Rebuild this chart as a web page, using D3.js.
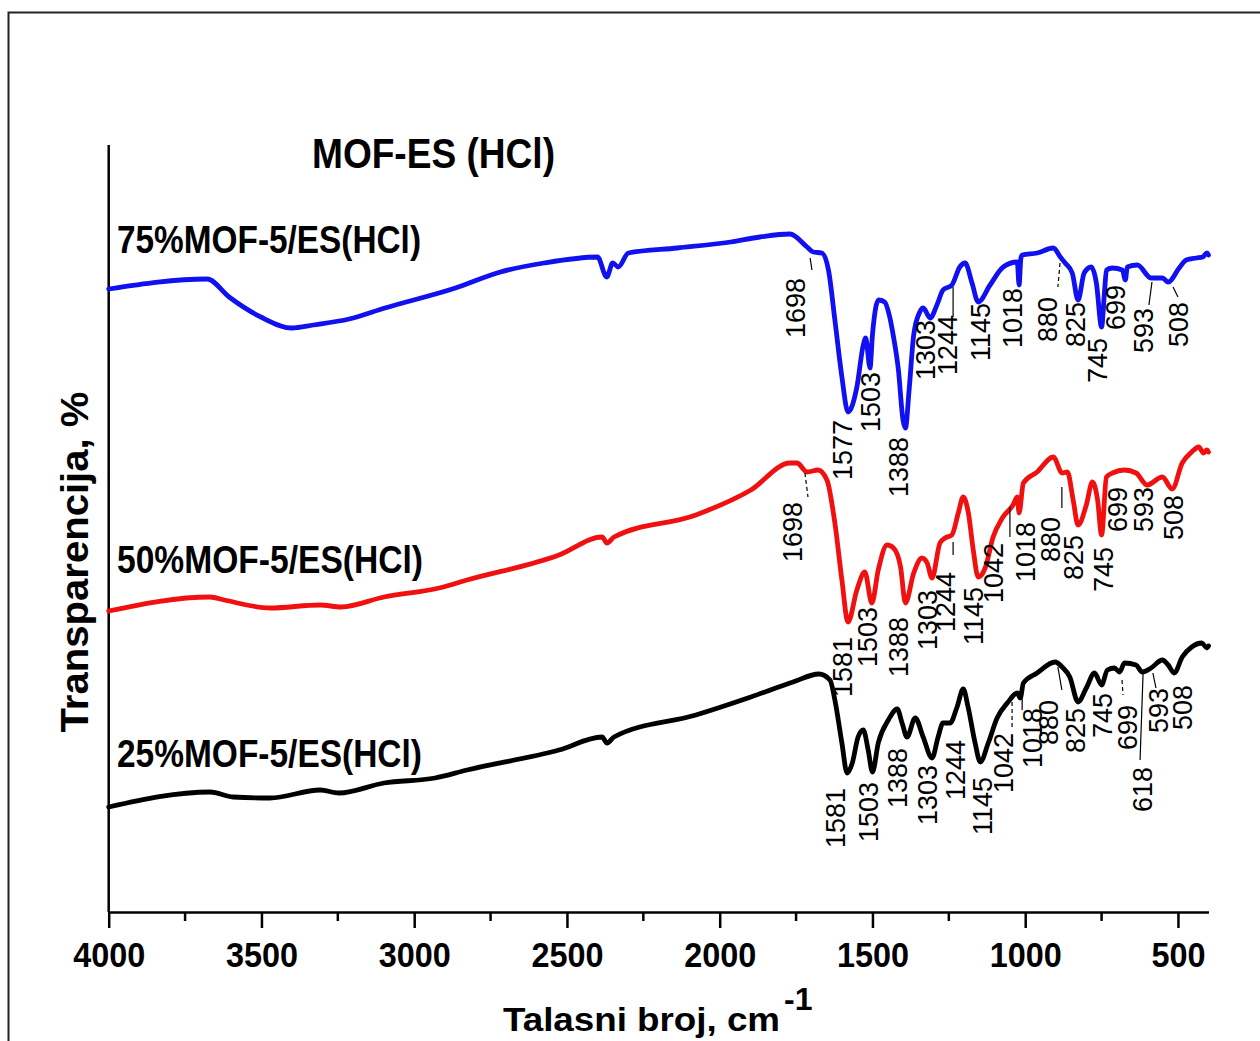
<!DOCTYPE html>
<html><head><meta charset="utf-8">
<script src="https://cdn.jsdelivr.net/npm/d3@7"></script>
<style>
html,body{margin:0;padding:0;background:#fff;}
svg{display:block;}
text{font-family:"Liberation Sans",Arial,sans-serif;}
</style></head>
<body>
<svg id="chart" width="1260" height="1041"></svg>
<script>
// ---------- DATA ----------
const chartTitle = "MOF-ES (HCl)";
const xTitle = "Talasni broj, cm";
const xTitleSup = "-1";
const yTitle = "Transparencija, %";
const seriesNames = ["75%MOF-5/ES(HCl)", "50%MOF-5/ES(HCl)", "25%MOF-5/ES(HCl)"];
const seriesColors = ["#1010f0", "#f01010", "#000000"];
const majorTicks = [4000, 3500, 3000, 2500, 2000, 1500, 1000, 500];
const minorTicks = [3750, 3250, 2750, 2250, 1750, 1250, 750];

// [wavenumber, transmittance (offset, a.u.)]
const series75 = [[4000,62.3],[3678,63.3],[3606,61.5],[3502,59.5],[3401,58.4],[3330,58.7],[3213,59.3],[3096,60.4],
[2865,62.4],[2718,64.0],[2575,64.9],[2400,65.5],[2370,63.5],[2350,64.9],[2332,64.5],[2299,65.9],[2139,66.4],[1964,67.0],
[1868,67.5],[1770,67.8],[1714,66.5],[1694,66.0],[1666,65.9],[1644,64.2],[1623,59.2],[1600,53.5],[1580,50.0],[1551,52.5],
[1530,56.7],[1522,57.4],[1508,54.4],[1500,57.7],[1480,61.2],[1460,61.0],[1445,59.7],[1431,57.5],[1415,54.2],[1400,49.2],
[1392,48.4],[1380,52.2],[1365,57.7],[1345,60.0],[1334,60.4],[1311,59.4],[1289,60.7],[1269,62.2],[1240,62.7],[1214,64.5],
[1197,64.9],[1174,62.9],[1154,61.0],[1115,62.7],[1072,64.5],[1026,65.0],[1020,62.7],[1014,65.4],[1010,65.7],[961,65.9],
[908,66.4],[885,65.5],[869,64.9],[846,63.9],[827,61.2],[807,63.9],[784,64.5],[767,62.9],[750,58.5],[740,62.2],[734,64.2],
[714,64.4],[682,64.2],[672,63.2],[666,64.5],[633,64.7],[588,63.4],[551,63.4],[532,63.0],[496,64.4],[473,65.2],[440,65.4],
[419,65.5],[405,65.9],[400,65.7]];

const series50 = [[4000,30.1],[3668,31.5],[3622,31.2],[3472,30.4],[3308,30.7],[3239,30.5],[3099,31.5],[2918,32.4],
[2827,33.2],[2526,35.7],[2385,37.5],[2369,36.9],[2346,37.5],[2078,39.7],[1898,42.2],[1770,44.9],[1747,44.9],[1714,44.0],
[1678,44.2],[1649,43.2],[1623,38.9],[1600,33.2],[1580,29.0],[1551,32.2],[1525,34.0],[1502,30.9],[1481,34.2],[1452,36.7],
[1431,36.4],[1408,34.5],[1392,30.9],[1365,33.9],[1338,35.4],[1321,34.9],[1305,33.4],[1279,36.9],[1262,37.4],[1240,37.7],
[1219,39.9],[1203,41.5],[1186,39.9],[1170,36.2],[1154,33.5],[1131,34.4],[1105,37.5],[1075,39.4],[1040,40.7],[1026,41.5],
[1020,39.9],[1006,42.9],[961,44.0],[908,45.5],[879,43.9],[862,44.0],[843,41.2],[827,38.7],[800,40.7],[780,43.0],[763,41.2],
[750,37.7],[734,43.5],[714,43.9],[675,44.2],[637,43.9],[601,42.7],[551,43.5],[519,42.3],[486,44.9],[455,46.0],[432,46.5],
[416,45.9],[405,46.2],[400,46.0]];

const series25 = [[4000,10.5],[3668,12.0],[3593,11.5],[3472,11.4],[3308,12.2],[3246,11.9],[3099,12.9],[2932,13.4],
[2827,14.2],[2526,16.2],[2385,17.5],[2369,16.9],[2346,17.5],[2078,19.7],[1898,21.5],[1760,23.0],[1675,23.8],[1639,23.2],
[1623,21.2],[1600,16.9],[1583,13.9],[1566,14.9],[1547,17.5],[1530,18.2],[1514,16.2],[1500,14.0],[1481,16.9],[1448,19.2],
[1419,20.3],[1403,18.9],[1387,17.5],[1360,19.4],[1334,17.5],[1305,15.4],[1285,17.5],[1269,18.9],[1246,18.9],[1223,20.5],
[1203,22.3],[1187,20.5],[1164,16.9],[1147,15.0],[1121,16.9],[1092,19.4],[1056,21.0],[1026,21.9],[1016,21.4],[1006,22.9],
[961,23.9],[902,25.0],[879,24.5],[854,23.5],[827,21.0],[800,22.4],[773,23.9],[750,22.7],[731,24.2],[708,24.4],[691,24.0],
[675,24.9],[637,24.7],[617,24.0],[588,24.4],[551,25.2],[532,24.7],[512,23.9],[486,25.5],[455,26.5],[422,26.9],[405,26.4],
[400,26.6]];

// peak annotations: [text, wavenumber of label centre, value at label top]
const peaks75 = [["1698",1754,63.4],["1577",1600,49.2],["1503",1508,54.0],["1388",1416,47.5],["1303",1327,59.2],
["1244",1256,59.7],["1145",1148,60.9],["1018",1043,62.4],["880",928,61.5],["825",836,61.0],["745",764,57.4],
["699",706,62.7],["593",614,60.4],["508",500,61.0]];
const peaks50 = [["1698",1763,41.0],["1581",1599,27.5],["1503",1518,30.5],["1388",1416,29.5],["1303",1322,32.2],
["1244",1263,34.0],["1145",1171,32.5],["1042",1105,36.9],["1018",1000,39.0],["880",918,39.5],["825",843,37.7],
["745",745,36.5],["699",700,42.5],["593",614,42.5],["508",516,41.7]];
const peaks25 = [["1581",1622,12.4],["1503",1514,13.0],["1388",1420,16.4],["1303",1322,14.7],["1244",1230,17.2],
["1145",1142,13.5],["1042",1073,17.9],["1018",978,20.4],["880",926,21.2],["825",836,20.4],["745",748,21.9],
["699",666,20.7],["618",617,14.5],["593",565,22.4],["508",486,22.7]];

// leader lines: [wn1, value1, wn2, value2, dashed]
const leaders75 = [[1704,65.4,1698,64.2,0],[1236,62.5,1236,59.5,0],[886,64.9,893,62.5,1],[585,63.0,595,60.7,0],[516,62.5,500,61.5,0]];
const leaders50 = [[1721,43.9,1711,41.5,1],[1236,37.0,1236,35.7,0],[1050,40.5,1050,37.5,0],[880,42.5,880,40.4,0]];
const leaders25 = [[1043,21.0,1043,18.2,1],[1010,21.7,1010,20.2,0],[893,24.5,880,22.2,0],[683,23.2,680,21.7,1],[614,24.0,624,15.2,0],[582,23.9,572,22.4,0]];

// ---------- DRAW ----------
const svg = d3.select("#chart");
const W = 1260, H = 1041;
const x = d3.scaleLinear().domain([4000, 400]).range([108.7, 1208.5]);
const y = d3.scaleLinear().domain([0, 80]).range([912, 112]);
const yTop = 76.7;

// frame
svg.append("rect").attr("x", 8.5).attr("y", 12.5).attr("width", W).attr("height", H)
  .attr("fill", "none").attr("stroke", "#222").attr("stroke-width", 2);

// x axis
const xAxis = d3.axisBottom(x).tickValues(majorTicks).tickSize(16).tickSizeOuter(0).tickPadding(13)
  .tickFormat(d3.format("d"));
const gx = svg.append("g").attr("transform", `translate(0,${y(0)})`).call(xAxis);
gx.select(".domain").attr("stroke", "#000").attr("stroke-width", 2.5);
gx.selectAll(".tick line").attr("stroke", "#000").attr("stroke-width", 2.5);
gx.selectAll(".tick text").attr("font-size", 36).attr("font-weight", "bold").attr("fill", "#000")
  .attr("font-family", "Liberation Sans, Arial, sans-serif").attr("transform", "scale(0.9,1)");
svg.append("g").selectAll("line").data(minorTicks).join("line")
  .attr("x1", d => x(d)).attr("x2", d => x(d)).attr("y1", y(0)).attr("y2", y(0) + 9)
  .attr("stroke", "#000").attr("stroke-width", 2.5);

// y axis line
svg.append("line").attr("x1", x(4000)).attr("x2", x(4000)).attr("y1", y(0)).attr("y2", y(yTop))
  .attr("stroke", "#000").attr("stroke-width", 2.5);

// curves
const line = d3.line().x(d => x(d[0])).y(d => y(d[1])).curve(d3.curveMonotoneX);
[series75, series50, series25].forEach((s, i) => {
  svg.append("path").datum(s).attr("d", line).attr("fill", "none")
    .attr("stroke", seriesColors[i]).attr("stroke-width", 4.8)
    .attr("stroke-linejoin", "round").attr("stroke-linecap", "round");
});

// leaders
[leaders75, leaders50, leaders25].forEach(L => {
  svg.append("g").selectAll("line").data(L).join("line")
    .attr("x1", d => x(d[0])).attr("y1", d => y(d[1])).attr("x2", d => x(d[2])).attr("y2", d => y(d[3]))
    .attr("stroke", "#000").attr("stroke-width", 1.2)
    .attr("stroke-dasharray", d => d[4] ? "4,3" : null);
});

// peak labels
[peaks75, peaks50, peaks25].forEach(P => {
  svg.append("g").selectAll("text").data(P).join("text")
    .attr("transform", d => `translate(${x(d[1])},${y(d[2])}) rotate(-90)`)
    .attr("text-anchor", "end").attr("dy", "0.36em")
    .attr("font-size", 27).attr("fill", "#000").text(d => d[0]);
});

// series labels
const seriesLabelPos = [[117, 253, 304], [117, 573, 306], [117, 767, 305]];
seriesNames.forEach((n, i) => {
  const p = seriesLabelPos[i];
  svg.append("text").attr("x", p[0]).attr("y", p[1]).attr("font-size", 39).attr("font-weight", "bold")
    .attr("textLength", p[2]).attr("lengthAdjust", "spacingAndGlyphs").attr("fill", "#000").text(n);
});

// chart title
svg.append("text").attr("x", 312).attr("y", 168).attr("font-size", 42).attr("font-weight", "bold")
  .attr("textLength", 243).attr("lengthAdjust", "spacingAndGlyphs").text(chartTitle);

// x title
svg.append("text").attr("x", 503).attr("y", 1031).attr("font-size", 34).attr("font-weight", "bold")
  .attr("textLength", 277).attr("lengthAdjust", "spacingAndGlyphs").text(xTitle);
svg.append("text").attr("x", 784).attr("y", 1010).attr("font-size", 32).attr("font-weight", "bold")
  .text(xTitleSup);

// y title
svg.append("text").attr("transform", "translate(88,562) rotate(-90)").attr("text-anchor", "middle")
  .attr("font-size", 38).attr("font-weight", "bold").attr("textLength", 341)
  .attr("lengthAdjust", "spacingAndGlyphs").text(yTitle);
</script>
</body></html>
